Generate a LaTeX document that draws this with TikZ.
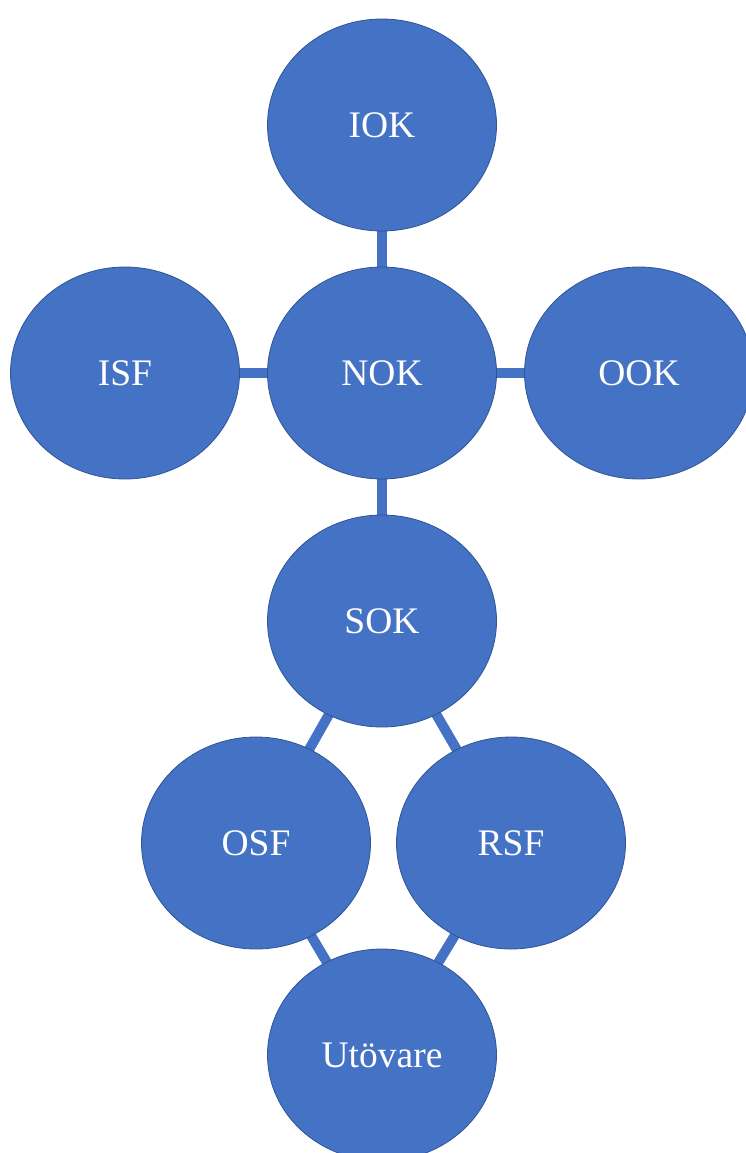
\documentclass[tikz,border=0pt]{standalone}
\usepackage{fontspec}
\setmainfont{Liberation Serif}
\usetikzlibrary{shapes.geometric}
\definecolor{nodeblue}{HTML}{4472C4}
\definecolor{edgeblue}{HTML}{2F5597}
\begin{document}
\begin{tikzpicture}[x=1pt,y=-1pt,
  orb/.style={ellipse, fill=nodeblue, draw=edgeblue, line width=0.8pt,
    minimum width=229pt, minimum height=212pt, inner sep=0pt,
    text=white, font=\fontsize{37.5}{40}\selectfont},
  link/.style={draw=nodeblue, line width=10pt}]
\useasboundingbox (0,0) rectangle (745,1153);
% centres
\coordinate (cIOK) at (382,125);
\coordinate (cNOK) at (382,373);
\coordinate (cISF) at (125,373);
\coordinate (cOOK) at (639,373);
\coordinate (cSOK) at (382,621);
\coordinate (cOSF) at (256,843);
\coordinate (cRSF) at (511,843);
\coordinate (cUTO) at (382,1055);
% connectors first (behind nodes)
\draw[link] (cIOK) -- (cNOK);
\draw[link] (cISF) -- (cNOK);
\draw[link] (cNOK) -- (cOOK);
\draw[link] (cNOK) -- (cSOK);
\draw[link] (cSOK) -- (cOSF);
\draw[link] (cSOK) -- (cRSF);
\draw[link] (cOSF) -- (cUTO);
\draw[link] (cRSF) -- (cUTO);
% nodes
\node[orb] (IOK) at (cIOK) {IOK};
\node[orb] (NOK) at (cNOK) {NOK};
\node[orb] (ISF) at (cISF) {ISF};
\node[orb] (OOK) at (cOOK) {OOK};
\node[orb] (SOK) at (cSOK) {SOK};
\node[orb] (OSF) at (cOSF) {OSF};
\node[orb] (RSF) at (cRSF) {RSF};
\node[orb] (UTO) at (cUTO) {Utövare};
\end{tikzpicture}
\end{document}
